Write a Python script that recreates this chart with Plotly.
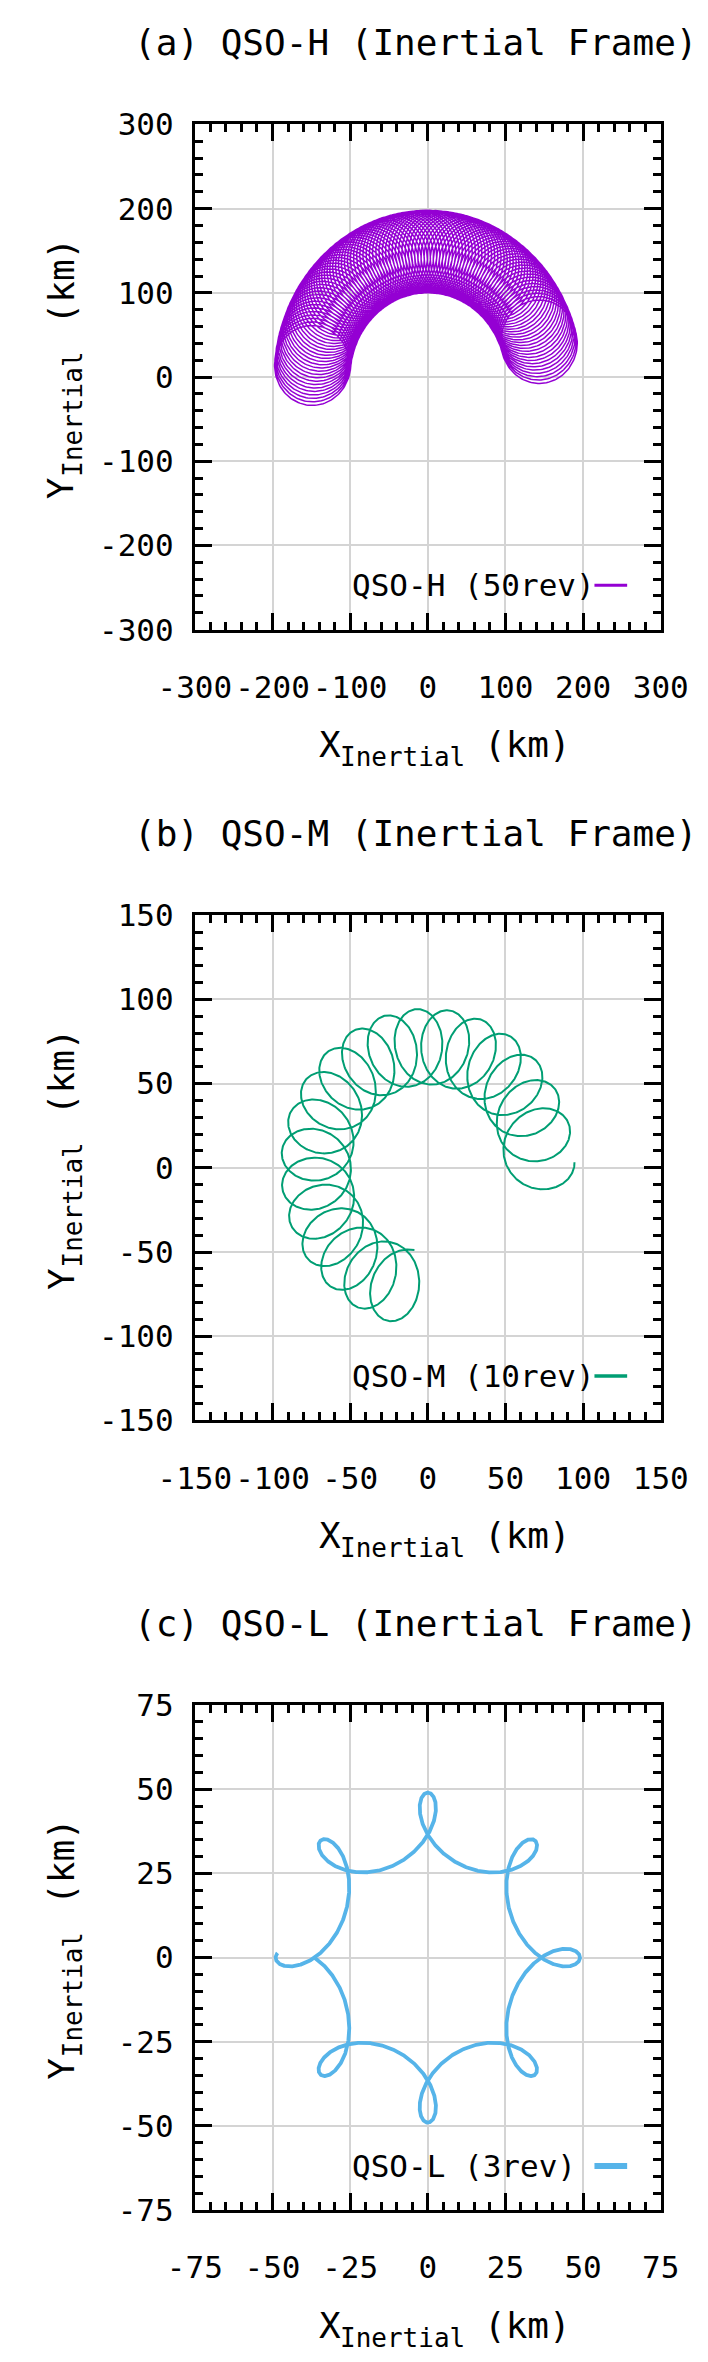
import numpy as np
import plotly.graph_objects as go

# ------------------------------------------------------------------
# Values
# ------------------------------------------------------------------
panel_titles = ["(a) QSO-H (Inertial Frame)",
                "(b) QSO-M (Inertial Frame)",
                "(c) QSO-L (Inertial Frame)"]
series_names = ["QSO-H (50rev)", "QSO-M (10rev)", "QSO-L (3rev)"]
series_colors = ["#9400d3", "#009e73", "#56b4e9"]
series_widths = [1.5, 2.0, 3.8]
key_line_widths = [3.0, 3.5, 6.0]

axis_limits = [300, 150, 75]
minor_steps = [20, 10, 5]
tick_values = [[-300, -200, -100, 0, 100, 200, 300],
               [-150, -100, -50, 0, 50, 100, 150],
               [-75, -50, -25, 0, 25, 50, 75]]
tick_labels = [["-300", "-200", "-100", "0", "100", "200", "300"],
               ["-150", "-100", "-50", "0", "50", "100", "150"],
               ["-75", "-50", "-25", "0", "25", "50", "75"]]
axis_word_x = ["X", "Inertial", "(km)"]
axis_word_y = ["Y", "Inertial", "(km)"]

# QSO-H: guiding centre drifting clockwise along an arc, ~100 loops
qso_h_drift_radius_km = 149.0
qso_h_drift_angle_deg = [175.5, 15.5]      # start, end
qso_h_loop_radii_km = [49.0, 48.5]         # radial, tangential
qso_h_loop_count = 99.5

# QSO-M: guiding centre drifting clockwise, ~20 loops
qso_m_drift_radius_km = 72.0
qso_m_drift_angle_deg = [-100.0, -358.0]
qso_m_loop_radii_km = [22.5, 19.5]
qso_m_loop_count = 19.5

# QSO-L: eight outward loops around the origin
qso_l_ring_radius_km = 39.25
qso_l_loop_offset_km = 9.75
qso_l_loops_per_turn = 8
qso_l_crossing_angle_rad = 0.247
qso_l_end_overshoot_rad = 0.05


def drift_trajectory(R, angles, radii, nloops, npts):
    s = np.linspace(0.0, 1.0, npts)
    phi = np.radians(angles[0] + (angles[1] - angles[0]) * s)
    psi = np.pi + 2.0 * np.pi * nloops * s
    rr, rt = radii
    x = R * np.cos(phi) + rr * np.cos(psi) * np.cos(phi) - rt * np.sin(psi) * np.sin(phi)
    y = R * np.sin(phi) + rr * np.cos(psi) * np.sin(phi) + rt * np.sin(psi) * np.cos(phi)
    return x, y


def ring_trajectory(A, d, k, phi0, over, npts):
    phi = np.linspace(np.pi + phi0, 3.0 * np.pi + over, npts)
    z = A * np.exp(1j * phi) + d * np.exp(-1j * (k - 1) * phi)
    return z.real, z.imag


traj = [
    drift_trajectory(qso_h_drift_radius_km, qso_h_drift_angle_deg, qso_h_loop_radii_km,
                     qso_h_loop_count, 14000),
    drift_trajectory(qso_m_drift_radius_km, qso_m_drift_angle_deg, qso_m_loop_radii_km,
                     qso_m_loop_count, 4000),
    ring_trajectory(qso_l_ring_radius_km, qso_l_loop_offset_km, qso_l_loops_per_turn,
                    qso_l_crossing_angle_rad, qso_l_end_overshoot_rad, 4000),
]

# ------------------------------------------------------------------
# Layout (pixel geometry of the page)
# ------------------------------------------------------------------
W, H = 708, 2362
FONT = "DejaVu Sans Mono"
PLOT_L, PLOT_R = 165, 678
PLOT_TOPS = [100, 903, 1705]
PLOT_SIZE = 513


def px(xp):
    return xp / W


def py(yp):
    return 1.0 - yp / H


def text_ann(text, xp, yp, size, xanchor="center", angle=0):
    return dict(text=text, x=px(xp), y=py(yp), xref="paper", yref="paper",
                xanchor=xanchor, yanchor="middle", textangle=angle, showarrow=False,
                font=dict(family=FONT, size=size, color="black"))


fig = go.Figure()
annotations = []
shapes = []
layout_axes = {}

for i in range(3):
    sfx = "" if i == 0 else str(i + 1)
    top = PLOT_TOPS[i]
    bot = top + PLOT_SIZE
    x, y = traj[i]
    fig.add_trace(go.Scatter(
        x=x, y=y, mode="lines", name=series_names[i],
        line=dict(color=series_colors[i], width=series_widths[i]),
        xaxis="x" + sfx, yaxis="y" + sfx, showlegend=False, hoverinfo="skip"))

    common = dict(
        range=[-axis_limits[i], axis_limits[i]],
        tickmode="array", tickvals=tick_values[i], ticktext=tick_labels[i],
        ticks="inside", ticklen=17, tickwidth=3, tickcolor="black",
        showline=True, linewidth=3, linecolor="black", mirror="allticks",
        showgrid=True, gridcolor="#d4d4d4", gridwidth=1.5, zeroline=False,
        minor=dict(tickmode="linear", tick0=0, dtick=minor_steps[i], ticks="inside",
                   ticklen=8, tickwidth=2.5, tickcolor="black", showgrid=False),
        tickfont=dict(family=FONT, size=31, color="black"),
        fixedrange=True,
    )
    layout_axes["xaxis" + sfx] = dict(common, domain=[px(PLOT_L), px(PLOT_R)],
                                      anchor="y" + sfx, ticklabelstandoff=28)
    layout_axes["yaxis" + sfx] = dict(common, domain=[py(bot), py(top)],
                                      anchor="x" + sfx, ticklabelstandoff=12)

    # panel title
    annotations.append(text_ann(panel_titles[i], 408, top - 83, 36))
    # x-axis title: main letter, subscript, unit
    annotations.append(text_ann(axis_word_x[0], 300, bot + 117, 36, xanchor="left"))
    annotations.append(text_ann(axis_word_x[1], 323, bot + 129.5, 26, xanchor="left"))
    annotations.append(text_ann(axis_word_x[2], 481, bot + 117, 36, xanchor="left"))
    # y-axis title (rotated, reading upward)
    annotations.append(text_ann(axis_word_y[0], 18, bot - 133 - 11, 36, angle=-90))
    annotations.append(text_ann(axis_word_y[1], 30.5, bot - 156 - 63, 26, angle=-90))
    annotations.append(text_ann(axis_word_y[2], 18, bot - 311 - 43, 36, angle=-90))
    # key: opaque box, text, line sample
    shapes.append(dict(type="rect", xref="paper", yref="paper", layer="between",
                       x0=px(326), x1=px(PLOT_R), y0=py(bot), y1=py(bot - 73),
                       fillcolor="white", line=dict(width=0)))
    annotations.append(text_ann(series_names[i], 336, bot - 45, 31, xanchor="left"))
    shapes.append(dict(type="line", xref="paper", yref="paper", layer="above",
                       x0=px(605), x1=px(641), y0=py(bot - 45), y1=py(bot - 45),
                       line=dict(color=series_colors[i], width=key_line_widths[i])))

fig.update_layout(
    width=W, height=H, autosize=False,
    margin=dict(l=0, r=0, t=0, b=0),
    paper_bgcolor="white", plot_bgcolor="white",
    showlegend=False,
    annotations=annotations, shapes=shapes,
    **layout_axes,
)

fig.write_html("out.html")
